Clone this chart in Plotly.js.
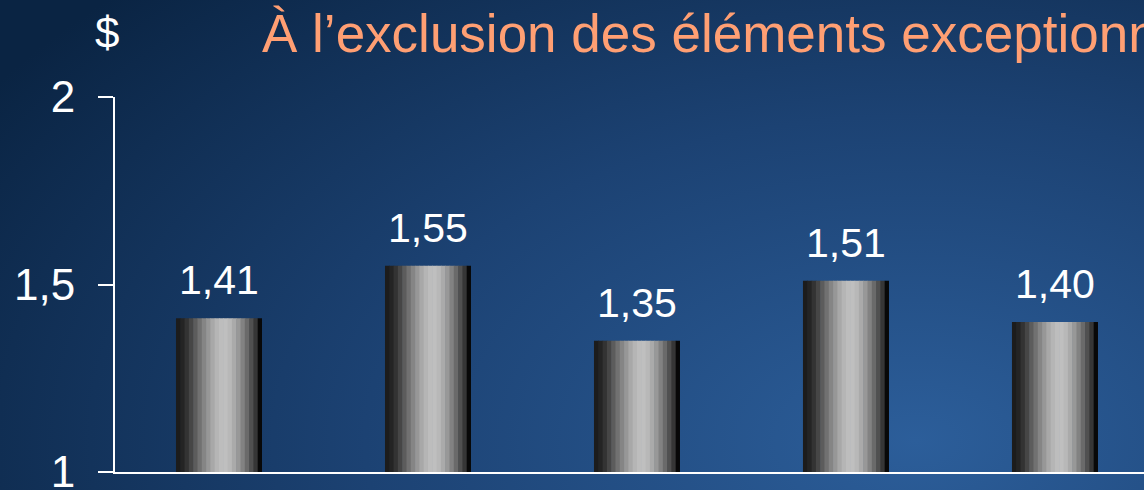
<!DOCTYPE html>
<html>
<head>
<meta charset="utf-8">
<script src="https://cdn.plot.ly/plotly-3.0.1.min.js"></script>
<style>
  html, body { margin:0; padding:0; width:1144px; height:490px; overflow:hidden; }
  body {
    background: radial-gradient(ellipse 1100px 650px at 80% 90%, #2c5e9a 0%, #1c4273 50%, #0a2443 100%);
  }
  #chart { width:1144px; height:490px; }
</style>
</head>
<body>
<div id="chart"></div>
<script>
// ---- data ----
const categories = ["Période 1", "Période 2", "Période 3", "Période 4", "Période 5"];
const values = [1.41, 1.55, 1.35, 1.51, 1.40];
const valueLabels = ["1,41", "1,55", "1,35", "1,51", "1,40"];
const tickValues = [1, 1.5, 2];
const tickLabels = ["1", "1,5", "2"];
const unitLabel = "$";
const chartTitle = "À l’exclusion des éléments exceptionnels";

// ---- style: metallic cylinder shading, left to right ----
const stripeColors = [
  "#1c1c1c", "#242424", "#333333", "#464646", "#5c5c5c",
  "#717171", "#858585", "#979797", "#a8a8a8", "#b5b5b5",
  "#bdbdbd", "#bfbfbf", "#b8b8b8", "#aaaaaa", "#989898",
  "#828282", "#6a6a6a", "#505050", "#363636", "#080808"
];
const BAR_W = 0.4115;
const N = stripeColors.length;
const sw = BAR_W / N;

const traces = stripeColors.map((c, k) => ({
  type: "bar",
  x: categories,
  y: values,
  width: k < N - 1 ? sw * 1.15 : sw,
  offset: -BAR_W / 2 + k * sw,
  marker: { color: c, line: { width: 0 } },
  hoverinfo: "skip",
  showlegend: false
}));

const FONT = "Liberation Sans, Arial, sans-serif";

const annotations = values.map((v, i) => ({
  x: categories[i],
  y: v,
  xref: "x",
  yref: "y",
  text: valueLabels[i],
  showarrow: false,
  yanchor: "bottom",
  yshift: 13,
  font: { family: FONT, size: 41, color: "#ffffff" }
}));

// unit label above the y axis (paper coords relative to plot area: left 115px, width 1029px; bottom 472px, height 375px)
annotations.push({
  x: (107 - 115) / 1029, y: (472 - 33) / 375,
  xref: "paper", yref: "paper",
  text: unitLabel, showarrow: false,
  xanchor: "center", yanchor: "middle",
  font: { family: FONT, size: 44, color: "#ffffff" }
});

const layout = {
  width: 1144,
  height: 490,
  paper_bgcolor: "rgba(0,0,0,0)",
  plot_bgcolor: "rgba(0,0,0,0)",
  margin: { l: 115, r: 0, t: 97, b: 18, pad: 0 },
  barmode: "overlay",
  separators: ", ",
  title: {
    text: chartTitle,
    xref: "container", yref: "container",
    x: 262 / 1144, xanchor: "left",
    y: 1 - 33 / 490, yanchor: "middle",
    font: { family: FONT, size: 53, color: "#ff9f73" }
  },
  xaxis: {
    type: "category",
    range: [-0.4976, 4.426],
    showticklabels: false,
    ticks: "",
    showgrid: false,
    zeroline: false,
    showline: true,
    linecolor: "#ffffff",
    linewidth: 2,
    fixedrange: true
  },
  yaxis: {
    range: [1, 2],
    tickvals: tickValues,
    ticktext: tickLabels,
    ticks: "outside",
    ticklen: 15,
    tickwidth: 2,
    tickcolor: "#ffffff",
    ticklabelstandoff: 14,
    ticklabeloverflow: "allow",
    showgrid: false,
    zeroline: false,
    showline: true,
    linecolor: "#ffffff",
    linewidth: 2,
    tickfont: { family: FONT, size: 44, color: "#ffffff" },
    fixedrange: true
  },
  annotations: annotations,
  showlegend: false
};

Plotly.newPlot("chart", traces, layout, { displayModeBar: false, staticPlot: true });
</script>
</body>
</html>
